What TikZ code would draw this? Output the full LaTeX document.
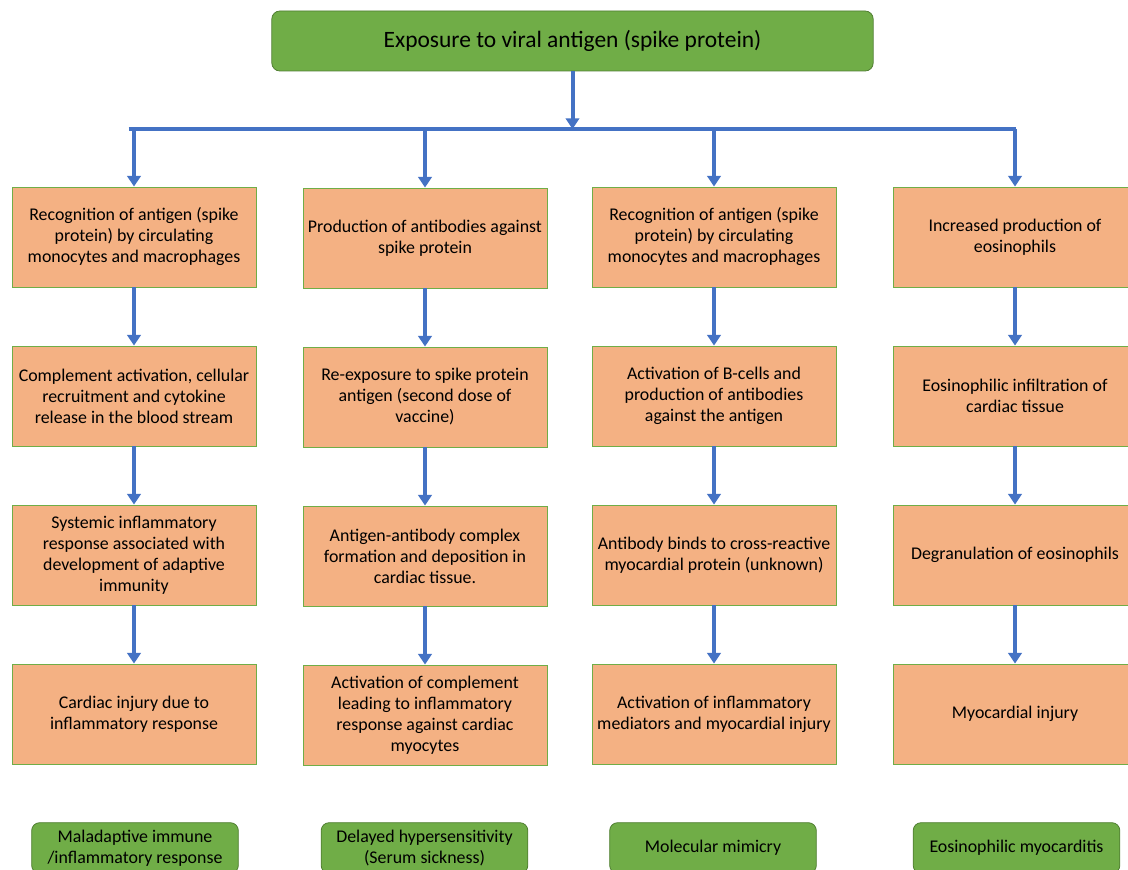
\documentclass[tikz,border=0pt]{standalone}
\usepackage{fontspec}
\setmainfont{Carlito}
\usetikzlibrary{arrows.meta}
\definecolor{leafgreen}{HTML}{70AD47}
\definecolor{darkleaf}{HTML}{507E32}
\definecolor{peach}{HTML}{F4B183}
\definecolor{flowblue}{HTML}{4472C4}
\tikzset{
  stage/.style={draw=leafgreen,fill=peach,line width=.6pt,minimum width=183pt,minimum height=75pt,
    align=center,inner sep=2pt,font=\fontsize{13.4}{15.75}\selectfont},
  verdict/.style={draw=darkleaf,fill=leafgreen,line width=.6pt,rounded corners=6pt,minimum width=155pt,
    minimum height=38pt,align=center,inner sep=2pt,font=\fontsize{13.4}{15.75}\selectfont},
  headbox/.style={draw=darkleaf,fill=leafgreen,line width=.6pt,rounded corners=6pt,minimum width=451pt,
    minimum height=45pt,font=\fontsize{17.6}{20}\selectfont},
  flow/.style={draw=flowblue,line width=3pt,-{Triangle[width=10pt,length=8pt]}},
  bar/.style={draw=flowblue,line width=3pt}
}
\begin{document}
\begin{tikzpicture}[x=.75pt,y=-.75pt]
  \useasboundingbox (0,0) rectangle (1128,870);
  \clip (0,0) rectangle (1128,870);
  \node[headbox] (exposure) at (572.5,41) {Exposure to viral antigen (spike protein)};
  \coordinate (hub) at (572.5,129);
  % first column
  \node[stage] (recog) at (134,237) {Recognition of antigen (spike\\protein) by circulating\\monocytes and macrophages};
  \node[stage] (complement) at (134,396) {Complement activation, cellular\\recruitment and cytokine\\release in the blood stream};
  \node[stage] (systemic) at (134,555) {Systemic inflammatory\\response associated with\\development of adaptive\\immunity};
  \node[stage] (cardinj) at (134,714) {Cardiac injury due to\\inflammatory response};
  % second column
  \node[stage] (antibody) at (425,238) {Production of antibodies against\\spike protein};
  \node[stage] (reexpo) at (425,397) {Re-exposure to spike protein\\antigen (second dose of\\vaccine)};
  \node[stage] (complex) at (425,556) {Antigen-antibody complex\\formation and deposition in\\cardiac tissue.};
  \node[stage] (complact) at (425,715) {Activation of complement\\leading to inflammatory\\response against cardiac\\myocytes};
  % third column
  \node[stage] (recogb) at (714,237) {Recognition of antigen (spike\\protein) by circulating\\monocytes and macrophages};
  \node[stage] (bcell) at (714,396) {Activation of B-cells and\\production of antibodies\\against the antigen};
  \node[stage] (crossreact) at (714,555) {Antibody binds to cross-reactive\\myocardial protein (unknown)};
  \node[stage] (mediators) at (714,714) {Activation of inflammatory\\mediators and myocardial injury};
  % fourth column
  \node[stage] (eosprod) at (1015,237) {Increased production of\\eosinophils};
  \node[stage] (infiltr) at (1015,396) {Eosinophilic infiltration of\\cardiac tissue};
  \node[stage] (degran) at (1015,555) {Degranulation of eosinophils};
  \node[stage] (myoinj) at (1015,714) {Myocardial injury};
  % mechanisms
  \node[verdict] (maladapt) at (135,848) {Maladaptive immune\\/inflammatory response};
  \node[verdict] (serum) at (424.5,848) {Delayed hypersensitivity\\(Serum sickness)};
  \node[verdict] (mimicry) at (713,848) {Molecular mimicry};
  \node[verdict] (eosmyo) at (1016.5,848) {Eosinophilic myocarditis};
  % connectors
  \draw[flow] (exposure) -- (hub);
  \draw[bar] ([xshift=-4pt]hub -| recog) -- ([xshift=1pt]hub -| eosprod);
  \draw[flow] (hub -| recog) -- (recog);
  \draw[flow] (hub -| antibody) -- (antibody);
  \draw[flow] (hub -| recogb) -- (recogb);
  \draw[flow] (hub -| eosprod) -- (eosprod);
  \draw[flow] (recog) -- (complement); \draw[flow] (complement) -- (systemic); \draw[flow] (systemic) -- (cardinj);
  \draw[flow] (antibody) -- (reexpo); \draw[flow] (reexpo) -- (complex); \draw[flow] (complex) -- (complact);
  \draw[flow] (recogb) -- (bcell); \draw[flow] (bcell) -- (crossreact); \draw[flow] (crossreact) -- (mediators);
  \draw[flow] (eosprod) -- (infiltr); \draw[flow] (infiltr) -- (degran); \draw[flow] (degran) -- (myoinj);
\end{tikzpicture}
\end{document}
